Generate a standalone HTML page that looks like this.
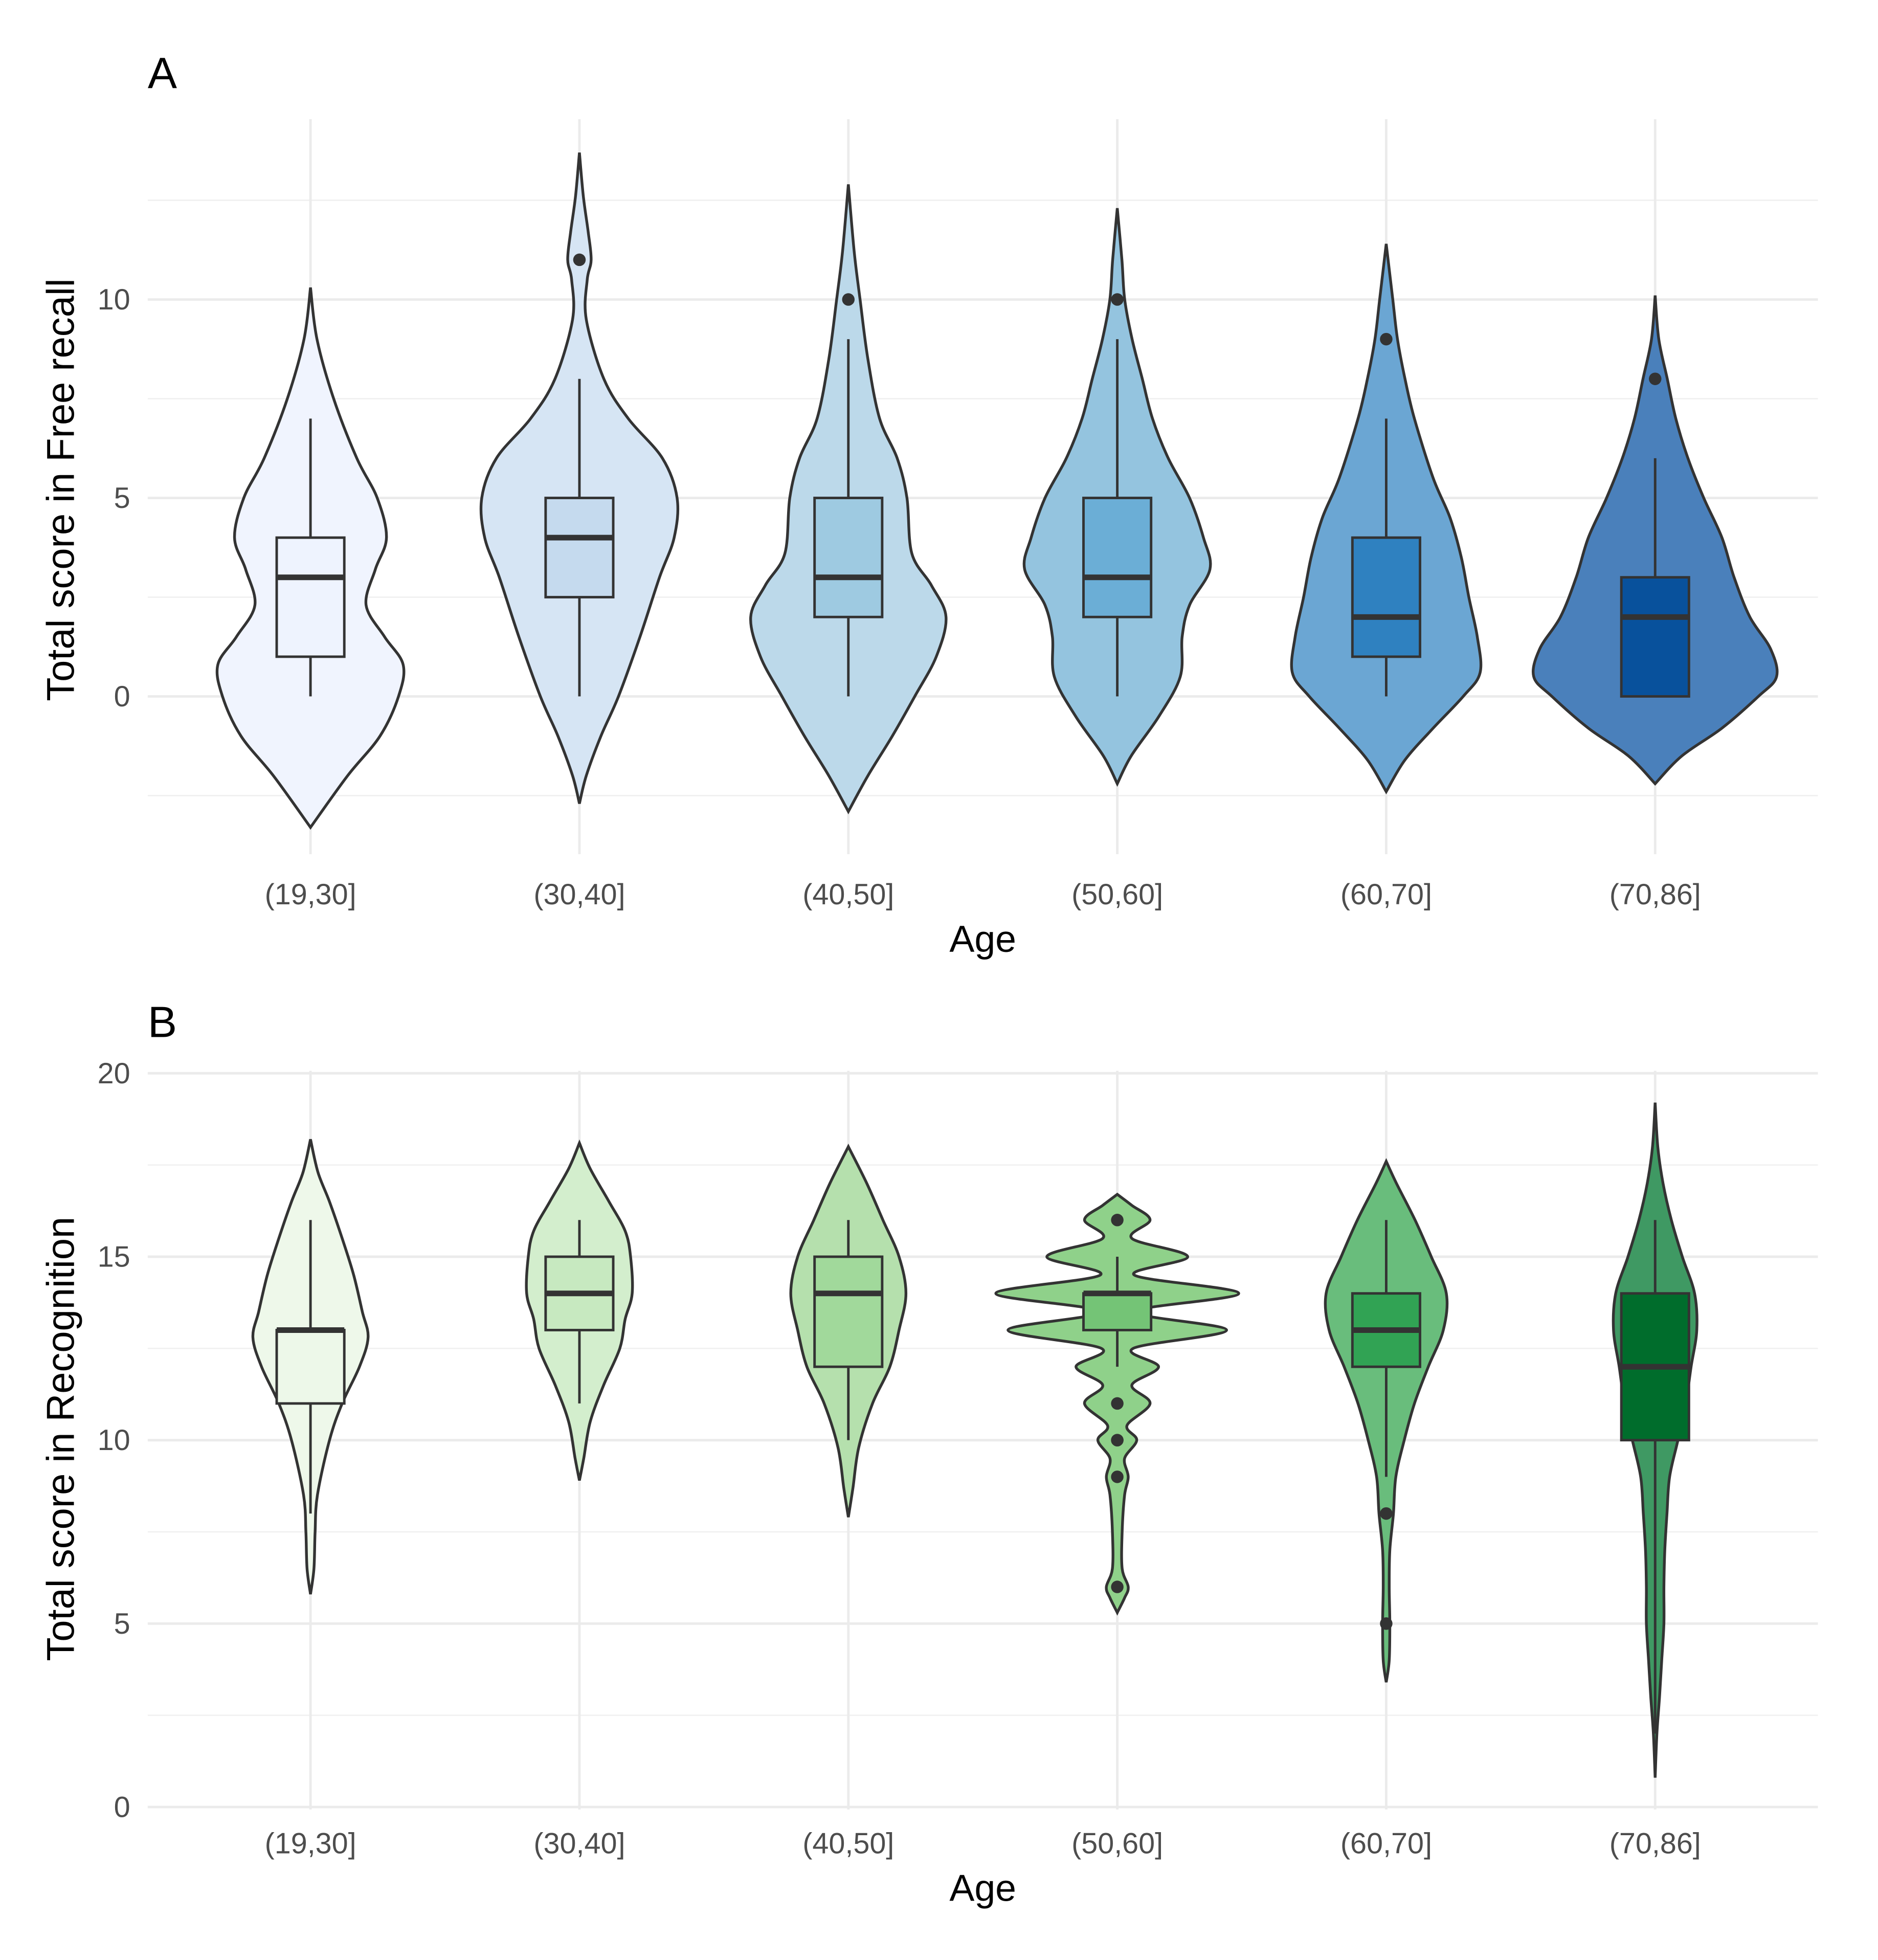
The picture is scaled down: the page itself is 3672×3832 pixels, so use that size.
<!DOCTYPE html>
<html><head><meta charset="utf-8">
<style>html,body{margin:0;padding:0;background:#fff}svg{display:block}text{font-family:"Liberation Sans",Arial,sans-serif}</style>
</head><body>
<svg id="chart" xmlns="http://www.w3.org/2000/svg" width="3672" height="3832" viewBox="0 0 1500 1565">
<rect width="1500" height="1565" fill="#fff"/>
<g id="panelA"></g>
<g id="panelB"></g>
</svg>
<script>
const categories = ["(19,30]","(30,40]","(40,50]","(50,60]","(60,70]","(70,86]"];
const violinA = [
 [[-3.3,0],[-2,0.4],[-1,0.75],[0,0.95],[0.8,1],[1.5,0.8],[2.3,0.6],[3.2,0.7],[4,0.82],[5,0.72],[6,0.5],[7.5,0.25],[9,0.07],[10.3,0]],
 [[-2.7,0],[-2,0.07],[-1,0.22],[0,0.4],[1.5,0.62],[3,0.82],[4,0.97],[5,1],[6,0.85],[7,0.5],[8,0.25],[9.5,0.07],[10.5,0.08],[11,0.12],[11.7,0.09],[12.6,0.04],[13.7,0]],
 [[-2.9,0],[-2,0.2],[-1,0.45],[0,0.68],[1,0.9],[2,1],[2.8,0.85],[3.6,0.65],[5,0.6],[6,0.5],[7,0.32],[8.5,0.2],[10,0.12],[11.2,0.06],[12.9,0]],
 [[-2.2,0],[-1.5,0.15],[-0.5,0.45],[0.5,0.68],[1.5,0.7],[2.3,0.78],[3.2,1],[4,0.93],[5,0.78],[6,0.55],[7,0.38],[8,0.27],[9,0.16],[10,0.08],[11,0.05],[12.3,0]],
 [[-2.4,0],[-1.6,0.2],[-0.8,0.5],[0,0.82],[0.6,1],[1.5,0.97],[2.5,0.88],[3.5,0.8],[4.5,0.68],[5.5,0.5],[7,0.3],[8,0.2],[9,0.12],[10,0.07],[11.4,0]],
 [[-2.2,0],[-1.5,0.22],[-0.8,0.55],[0,0.85],[0.5,1],[1.2,0.95],[2,0.78],[3,0.65],[4,0.55],[5,0.4],[6,0.27],[7,0.17],[8,0.1],[9,0.03],[10.1,0]]
];
const boxA = [[0,1,3,4,7],[0,2.5,4,5,8],[0,2,3,5,9],[0,2,3,5,9],[0,1,2,4,7],[0,0,2,3,6]];
const outliersA = [[],[11],[10],[10],[9],[8]];
const maxWidthA = [74,78,78,74,75,97];
const violinB = [
 [[5.8,0],[6.5,0.06],[7.5,0.08],[8.5,0.12],[10,0.33],[11,0.55],[12,0.85],[12.8,1],[13.5,0.9],[14.5,0.75],[15.5,0.55],[16.5,0.33],[17.3,0.13],[18.2,0]],
 [[8.9,0],[9.5,0.08],[10.5,0.2],[11.5,0.45],[12.5,0.75],[13.3,0.85],[14,0.98],[15,0.95],[15.7,0.85],[16.5,0.55],[17.4,0.2],[18.1,0]],
 [[7.9,0],[8.7,0.08],[9.8,0.18],[11,0.42],[12,0.72],[13,0.88],[14,1],[15,0.88],[16,0.6],[17,0.32],[18,0]],
 [[5.3,0],[5.7,0.06],[6,0.09],[6.5,0.04],[7.5,0.04],[8.5,0.06],[9,0.09],[9.5,0.06],[10,0.16],[10.4,0.08],[11,0.27],[11.5,0.12],[12,0.34],[12.5,0.13],[13,0.9],[13.5,0.14],[14,1],[14.5,0.14],[15,0.58],[15.5,0.12],[16,0.27],[16.4,0.12],[16.7,0]],
 [[3.4,0],[4,0.05],[5,0.06],[6,0.05],[7,0.06],[8,0.12],[9,0.16],[10,0.3],[11,0.47],[12,0.7],[13,0.95],[14,1],[15,0.75],[16,0.48],[17,0.17],[17.6,0]],
 [[0.8,0],[2,0.04],[3,0.1],[4,0.15],[5,0.2],[6,0.2],[7,0.22],[8,0.27],[9,0.33],[10,0.52],[11,0.7],[12,0.82],[13,0.95],[14,0.9],[15,0.62],[16,0.37],[17,0.18],[18,0.06],[19.2,0]]
];
const boxB = [[8,11,13,13,16],[11,13,14,15,16],[10,12,14,15,16],[12,13,14,14,15],[9,12,13,14,16],[2,10,12,14,16]];
const outliersB = [[],[],[],[16,11,10,10,9,6],[8,5],[]];
const maxWidthB = [46,43,46,97,48,35];
const ticksA = [0,5,10], minorA=[-2.5,2.5,7.5,12.5];
const ticksB = [0,5,10,15,20], minorB=[2.5,7.5,12.5,17.5];
const violinColA = ["#f0f4fe","#d6e5f4","#bcd9ea","#94c4df","#6ba6d3","#4a80bb"];
const boxColA = ["#eef3fe","#c5daee","#9ecae1","#6baed6","#2f81c0","#08519c"];
const violinColB = ["#eef8ea","#d3eecd","#b5e0ad","#8fd18a","#69bd7c","#3f9963"];
const boxColB = ["#edf8e9","#c7e9c0","#a1d99b","#74c476","#31a354","#006d2c"];

const NS="http://www.w3.org/2000/svg";
const xLeft=118,xRight=1452;
function xPos(i){return 248+i*214.8;}
function mk(tag,attrs,parent){const e=document.createElementNS(NS,tag);for(const k in attrs)e.setAttribute(k,attrs[k]);parent.appendChild(e);return e;}
function smooth(pts){let d="M"+pts[0][0]+","+pts[0][1];for(let i=0;i<pts.length-1;i++){const p0=pts[Math.max(i-1,0)],p1=pts[i],p2=pts[i+1],p3=pts[Math.min(i+2,pts.length-1)];const c1=[p1[0]+(p2[0]-p0[0])/6,p1[1]+(p2[1]-p0[1])/6],c2=[p2[0]-(p3[0]-p1[0])/6,p2[1]-(p3[1]-p1[1])/6];d+=" C"+c1[0]+","+c1[1]+" "+c2[0]+","+c2[1]+" "+p2[0]+","+p2[1];}return d;}

function panel(g,cfg){
  const y=cfg.y;
  for(const m of cfg.minor){const l=mk("line",{x1:xLeft,x2:xRight,y1:y(m),y2:y(m),stroke:"#efefef","stroke-width":1},g);
    
    }
  for(const t of cfg.ticks){const l=mk("line",{x1:xLeft,x2:xRight,y1:y(t),y2:y(t),stroke:"#ebebeb","stroke-width":2},g);
    
    
    const tx=mk("text",{x:104,y:y(t)+8,"text-anchor":"end","font-size":23.5,fill:"#4d4d4d"},g);tx.textContent=t;
    
    }
  categories.forEach((c,i)=>{const l=mk("line",{x1:xPos(i),x2:xPos(i),y1:cfg.top,y2:cfg.bottom,stroke:"#ebebeb","stroke-width":2},g);
    
    
    const tx=mk("text",{x:xPos(i),y:cfg.labelY,"text-anchor":"middle","font-size":23.5,fill:"#4d4d4d"},g);tx.textContent=c;
    
    });
  categories.forEach((c,i)=>{
    const cx=xPos(i),W=cfg.maxW[i],prof=cfg.violin[i];
    const right=prof.map(p=>[cx+p[1]*W,y(p[0])]);
    const left=prof.slice().reverse().map(p=>[cx-p[1]*W,y(p[0])]);
    const d=smooth(right)+" "+smooth(left).replace(/^M/,"L")+" Z";
    const v=mk("path",{d:d,fill:cfg.vcol[i],stroke:"#333","stroke-width":2.2},g);
    
    
    const b=cfg.box[i],hw=27;
    const w=mk("line",{x1:cx,x2:cx,y1:y(b[0]),y2:y(b[4]),stroke:"#333","stroke-width":2},g);
    
    
    const r=mk("rect",{x:cx-hw,y:y(b[3]),width:2*hw,height:Math.max(y(b[1])-y(b[3]),0.5),fill:cfg.bcol[i],stroke:"#333","stroke-width":2},g);
    
    
    const md=mk("line",{x1:cx-hw,x2:cx+hw,y1:y(b[2]),y2:y(b[2]),stroke:"#333","stroke-width":4.5},g);
    
    
    for(const o of cfg.out[i]){const p=mk("circle",{cx:cx,cy:y(o),r:5,fill:"#333"},g);
      
      }
  });
  const xt=mk("text",{x:785,y:cfg.labelY+38,"text-anchor":"middle","font-size":30,fill:"#000"},g);xt.textContent="Age";
  
  
  const yt=mk("text",{x:0,y:0,"text-anchor":"middle","font-size":31,fill:"#000",transform:"translate(59,"+cfg.ytY+") rotate(-90)"},g);yt.textContent=cfg.ytitle;
  
  
  const pl=mk("text",{x:118,y:cfg.tagY,"font-size":35,fill:"#000"},g);pl.textContent=cfg.tag;
  
  
}
panel(document.getElementById("panelA"),{y:v=>556-v*31.7,ticks:ticksA,minor:minorA,top:95,bottom:682,labelY:722,violin:violinA,box:boxA,out:outliersA,maxW:maxWidthA,vcol:violinColA,bcol:boxColA,ytitle:"Total score in Free recall",ytY:391,tag:"A",tagY:70});
panel(document.getElementById("panelB"),{y:v=>1443-v*29.3,ticks:ticksB,minor:minorB,top:855,bottom:1445,labelY:1480,violin:violinB,box:boxB,out:outliersB,maxW:maxWidthB,vcol:violinColB,bcol:boxColB,ytitle:"Total score in Recognition",ytY:1149,tag:"B",tagY:828});
</script>
</body></html>
